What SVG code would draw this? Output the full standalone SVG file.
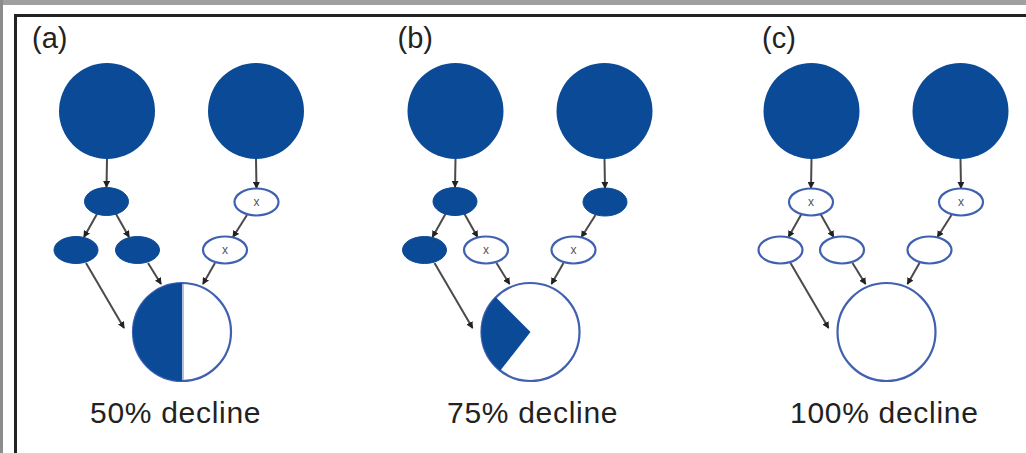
<svg xmlns="http://www.w3.org/2000/svg" width="1026" height="453" viewBox="0 0 1026 453">
  <defs>
    <style>
      .big { fill: #0b4a97; }
      .full { fill: #0b4a97; stroke: #0b4a97; stroke-width: 1; }
      .open { fill: #ffffff; stroke: #4060b0; stroke-width: 2.2; }
      .edge { stroke: #4a4a4a; stroke-width: 2; fill: none; marker-end: url(#tip); }
      .mark { font-family: "Liberation Sans", Arial, sans-serif; font-size: 12px; fill: #555555; text-anchor: middle; }
      .tag { font-family: "Liberation Sans", Arial, sans-serif; font-size: 29px; fill: #222222; }
      .cap { font-family: "Liberation Sans", Arial, sans-serif; font-size: 30px; letter-spacing: 0.7px; fill: #222222; }
    </style>
    <marker id="tip" markerUnits="userSpaceOnUse" markerWidth="7" markerHeight="7" refX="6" refY="3.5" orient="auto">
      <path d="M0,0 L7,3.5 L0,7 Z" fill="#222222"/>
    </marker>
  </defs>

  <!-- frame -->
  <rect x="0" y="0" width="1026" height="5" fill="#a0a0a0"/>
  <rect x="0" y="0" width="3" height="453" fill="#8c8c8c"/>
  <rect x="14" y="14" width="1012" height="3" fill="#222222"/>
  <rect x="14" y="14" width="3" height="439" fill="#222222"/>

  <!-- panel (a): 50% decline -->
  <g id="panel-a">
    <g id="a-connectors">
      <line class="edge" x1="107" y1="159" x2="106.5" y2="187"/>
      <line class="edge" x1="256" y1="159" x2="256.5" y2="188"/>
      <line class="edge" x1="97" y1="214" x2="84" y2="237"/>
      <line class="edge" x1="116" y1="214" x2="129" y2="237"/>
      <line class="edge" x1="247" y1="215" x2="233" y2="237"/>
      <line class="edge" x1="86" y1="263" x2="124" y2="328"/>
      <line class="edge" x1="148" y1="263" x2="161" y2="284"/>
      <line class="edge" x1="215" y1="263" x2="203" y2="284"/>
    </g>
    <g id="a-src1"><circle class="big" cx="107" cy="111" r="48"/></g>
    <g id="a-src2"><circle class="big" cx="256" cy="111" r="48"/></g>
    <g id="a-n1"><ellipse class="full" cx="106.5" cy="201.5" rx="22" ry="14"/></g>
    <g id="a-n2"><ellipse class="open" cx="256.5" cy="202" rx="22" ry="13.5"/><text class="mark" x="256.5" y="206">x</text></g>
    <g id="a-n3"><ellipse class="full" cx="76" cy="250" rx="22" ry="13.5"/></g>
    <g id="a-n4"><ellipse class="full" cx="137.5" cy="250" rx="22" ry="13.5"/></g>
    <g id="a-n5"><ellipse class="open" cx="225" cy="250" rx="22" ry="13.5"/><text class="mark" x="225" y="254">x</text></g>
    <g id="a-target">
      <circle class="open" cx="182" cy="332" r="49"/>
      <path class="big" d="M182,283 A49,49 0 0 0 182,381 Z"/>
      <line x1="183" y1="284" x2="183" y2="380" stroke="#9aaad6" stroke-width="1.5"/>
    </g>
    <text class="tag" x="32" y="48">(a)</text>
    <text class="cap" x="90" y="423">50% decline</text>
  </g>

  <!-- panel (b): 75% decline -->
  <g id="panel-b" transform="translate(348.5,0)">
    <g id="b-connectors">
      <line class="edge" x1="107" y1="159" x2="106.5" y2="187"/>
      <line class="edge" x1="256" y1="159" x2="256.5" y2="188"/>
      <line class="edge" x1="97" y1="214" x2="84" y2="237"/>
      <line class="edge" x1="116" y1="214" x2="129" y2="237"/>
      <line class="edge" x1="247" y1="215" x2="233" y2="237"/>
      <line class="edge" x1="86" y1="263" x2="124" y2="328"/>
      <line class="edge" x1="148" y1="263" x2="161" y2="284"/>
      <line class="edge" x1="215" y1="263" x2="203" y2="284"/>
    </g>
    <g id="b-src1"><circle class="big" cx="107" cy="111" r="48"/></g>
    <g id="b-src2"><circle class="big" cx="256" cy="111" r="48"/></g>
    <g id="b-n1"><ellipse class="full" cx="106.5" cy="201.5" rx="22" ry="14"/></g>
    <g id="b-n2"><ellipse class="full" cx="256.5" cy="202" rx="22" ry="14"/></g>
    <g id="b-n3"><ellipse class="full" cx="76" cy="250" rx="22" ry="13.5"/></g>
    <g id="b-n4"><ellipse class="open" cx="137.5" cy="250" rx="22" ry="13.5"/><text class="mark" x="137.5" y="254">x</text></g>
    <g id="b-n5"><ellipse class="open" cx="225" cy="250" rx="22" ry="13.5"/><text class="mark" x="225" y="254">x</text></g>
    <g id="b-target">
      <circle class="open" cx="182" cy="332" r="49"/>
      <path class="big" d="M182,332 L147.35,297.35 A49,49 0 0 0 151.8,370.6 Z"/>
    </g>
    <text class="tag" x="49" y="48">(b)</text>
    <text class="cap" x="98.5" y="423">75% decline</text>
  </g>

  <!-- panel (c): 100% decline -->
  <g id="panel-c" transform="translate(704.5,0)">
    <g id="c-connectors">
      <line class="edge" x1="107" y1="159" x2="106.5" y2="188"/>
      <line class="edge" x1="256" y1="159" x2="256.5" y2="188"/>
      <line class="edge" x1="97" y1="214" x2="84" y2="237"/>
      <line class="edge" x1="116" y1="214" x2="129" y2="237"/>
      <line class="edge" x1="247" y1="215" x2="233" y2="237"/>
      <line class="edge" x1="86" y1="263" x2="124" y2="328"/>
      <line class="edge" x1="148" y1="263" x2="161" y2="284"/>
      <line class="edge" x1="215" y1="263" x2="203" y2="284"/>
    </g>
    <g id="c-src1"><circle class="big" cx="107" cy="111" r="48"/></g>
    <g id="c-src2"><circle class="big" cx="256" cy="111" r="48"/></g>
    <g id="c-n1"><ellipse class="open" cx="106.5" cy="202" rx="22" ry="13.5"/><text class="mark" x="106.5" y="206">x</text></g>
    <g id="c-n2"><ellipse class="open" cx="256.5" cy="202" rx="22" ry="13.5"/><text class="mark" x="256.5" y="206">x</text></g>
    <g id="c-n3"><ellipse class="open" cx="76" cy="250" rx="22" ry="13.5"/></g>
    <g id="c-n4"><ellipse class="open" cx="137.5" cy="250" rx="22" ry="13.5"/></g>
    <g id="c-n5"><ellipse class="open" cx="225" cy="250" rx="22" ry="13.5"/></g>
    <g id="c-target"><circle class="open" cx="182" cy="332" r="49"/></g>
    <text class="tag" x="57.5" y="48">(c)</text>
    <text class="cap" x="85.5" y="423">100% decline</text>
  </g>
</svg>
